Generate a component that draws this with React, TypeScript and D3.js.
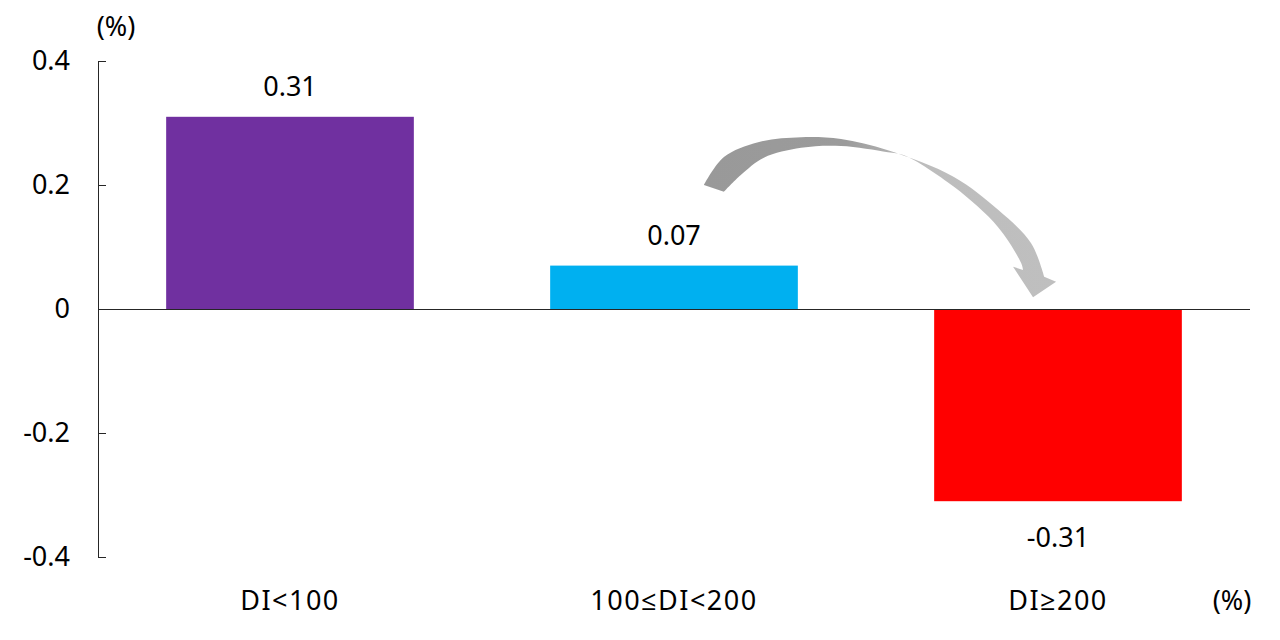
import React from "react";
import * as d3 from "d3";

const categories = ["DI<100", "100≤DI<200", "DI≥200"];
const values = [0.31, 0.07, -0.31];
const valueLabels = ["0.31", "0.07", "-0.31"];
const colors = ["#7030A0", "#00B0F0", "#FF0000"];
const yTicks = [0.4, 0.2, 0, -0.2, -0.4];
const yTickLabels = ["0.4", "0.2", "0", "-0.2", "-0.4"];

// Curved arrow annotation, in data units: [category index, value]
const arrowOuter: [number, number][] = [
  [1.078, 0.2], [1.13, 0.245], [1.219, 0.269], [1.331, 0.277], [1.435, 0.274],
  [1.557, 0.256], [1.729, 0.213], [1.844, 0.16], [1.93, 0.106], [1.964, 0.052],
];
const arrowHead: [number, number][] = [
  [1.995, 0.044], [1.935, 0.019], [1.883, 0.068], [1.909, 0.063],
];
const arrowInner: [number, number][] = [
  [1.909, 0.063], [1.904, 0.074], [1.844, 0.132], [1.729, 0.197], [1.599, 0.248],
  [1.557, 0.253], [1.435, 0.263], [1.331, 0.26], [1.234, 0.244], [1.174, 0.216], [1.13, 0.189],
];

const W = 1280;
const H = 640;
const FONT = "'Noto Sans', 'Open Sans', sans-serif";

export default function App() {
  const left = 98;
  const right = 1250;
  const top = 61;
  const bottom = 557;

  const x = d3.scaleBand<string>().domain(categories).range([left, right]).paddingInner(0.355).paddingOuter(0.1775);
  const y = d3.scaleLinear().domain([-0.4, 0.4]).range([bottom, top]);
  const step = x.step();
  const c0 = (x(categories[0]) as number) + x.bandwidth() / 2;
  const xi = d3.scaleLinear().domain([0, 1]).range([c0, c0 + step]);

  const line = d3.line<[number, number]>().x((d) => xi(d[0])).y((d) => y(d[1])).curve(d3.curveCatmullRom);
  const outerPath = line(arrowOuter) as string;
  const innerPath = (line(arrowInner) as string).replace(/^M/, "L");
  const headPath = arrowHead.map((p) => `L${xi(p[0])},${y(p[1])}`).join("");
  const arrowD = outerPath + headPath + innerPath + "Z";

  const fs = 27;
  const axisColor = "#262626";

  return (
    <svg width={W} height={H} style={{ position: "absolute", left: 0, top: 0 }} fontFamily={FONT}>
      <defs>
        <linearGradient id="arrowGrad" gradientUnits="userSpaceOnUse" x1={xi(1.08)} y1={0} x2={xi(2.0)} y2={0}>
          <stop offset="0" stopColor="#999999" />
          <stop offset="0.4" stopColor="#9b9b9b" />
          <stop offset="0.6" stopColor="#bdbdbd" />
          <stop offset="1" stopColor="#bfbfbf" />
        </linearGradient>
      </defs>
      <rect x={0} y={0} width={W} height={H} fill="#fff" />
      {categories.map((c, i) => (
        <rect
          key={c}
          x={x(c)}
          y={y(Math.max(0, values[i]))}
          width={x.bandwidth()}
          height={Math.abs(y(values[i]) - y(0))}
          fill={colors[i]}
        />
      ))}
      {/* y axis */}
      <line x1={left + 0.5} x2={left + 0.5} y1={y(0.4)} y2={y(-0.4)} stroke={axisColor} strokeWidth={1} />
      {yTicks.map((t, i) => (
        <g key={t}>
          <line x1={left} x2={left + 8} y1={Math.round(y(t)) + 0.5} y2={Math.round(y(t)) + 0.5} stroke={axisColor} />
          <text x={70} y={y(t)} dy="0.35em" textAnchor="end" fontSize={fs} fill="#000">
            {yTickLabels[i]}
          </text>
        </g>
      ))}
      {/* zero line */}
      <line x1={left} x2={right} y1={Math.round(y(0)) + 0.5} y2={Math.round(y(0)) + 0.5} stroke={axisColor} />
      {/* value labels */}
      {categories.map((c, i) => (
        <text
          key={c}
          x={(x(c) as number) + x.bandwidth() / 2}
          y={values[i] >= 0 ? y(values[i]) - 30 : y(values[i]) + 36}
          dy="0.35em"
          textAnchor="middle"
          fontSize={fs}
          fill="#000"
        >
          {valueLabels[i]}
        </text>
      ))}
      {/* category labels */}
      {categories.map((c) => (
        <text
          key={c}
          x={(x(c) as number) + x.bandwidth() / 2}
          y={601}
          dy="0.35em"
          textAnchor="middle"
          fontSize={fs}
          letterSpacing={1.5}
          fill="#000"
        >
          {c}
        </text>
      ))}
      <text x={116} y={27} dy="0.35em" textAnchor="middle" fontSize={fs} fill="#000">(%)</text>
      <text x={1232} y={601} dy="0.35em" textAnchor="middle" fontSize={fs} fill="#000">(%)</text>
      <path d={arrowD} fill="url(#arrowGrad)" />
    </svg>
  );
}
